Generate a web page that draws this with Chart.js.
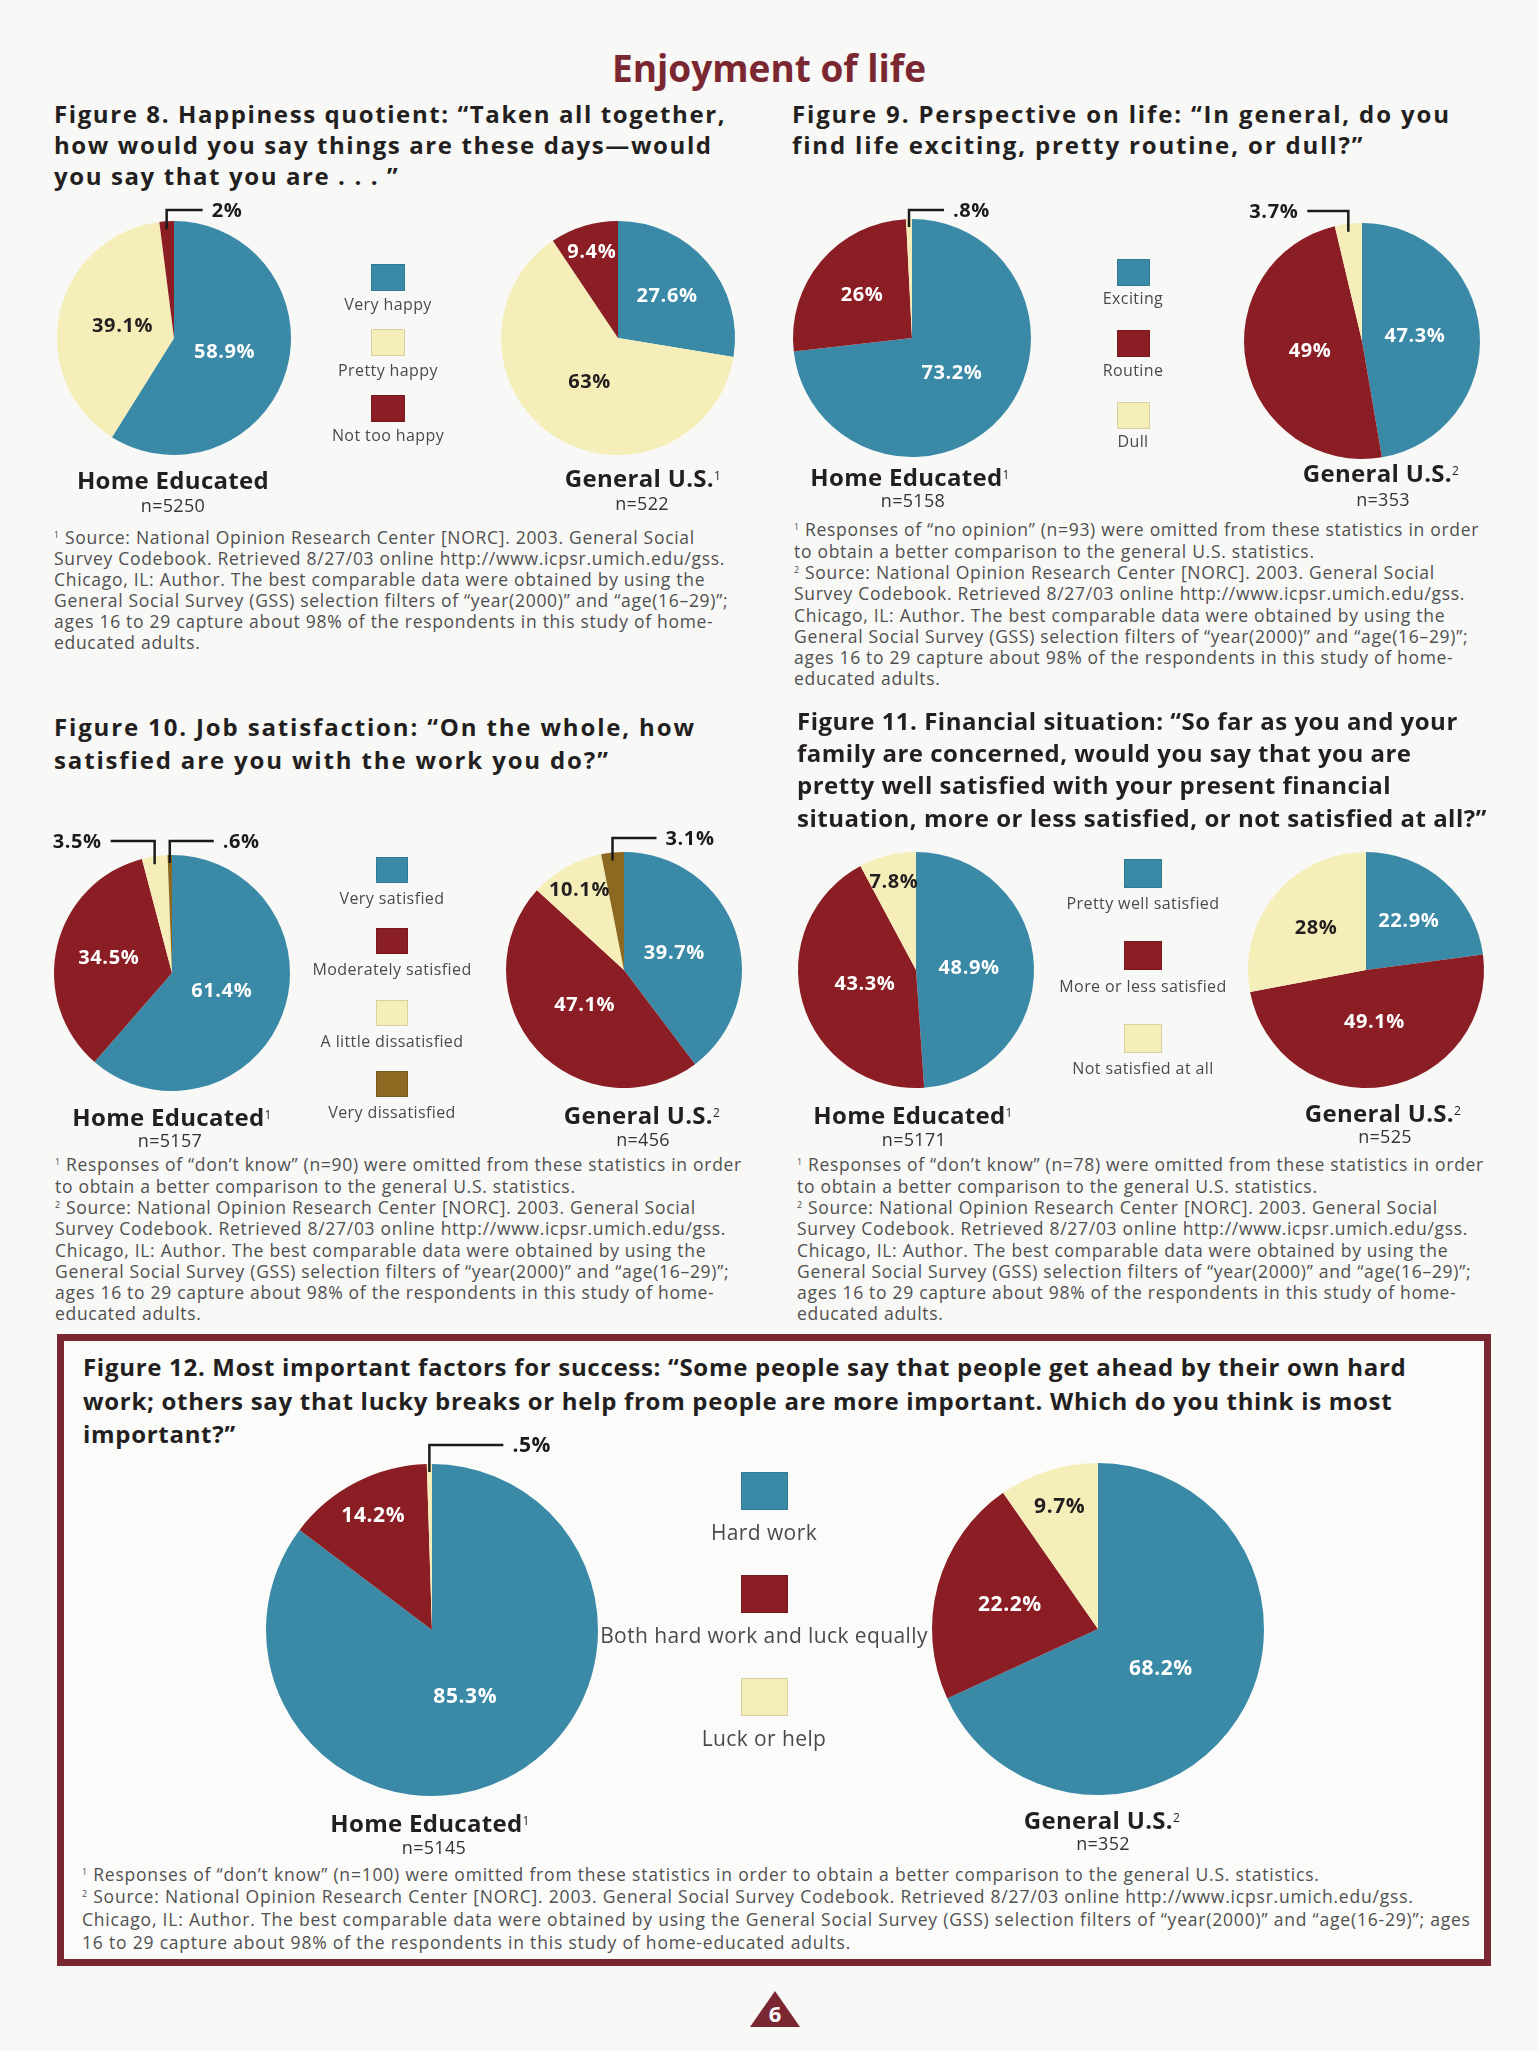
<!DOCTYPE html>
<html>
<head>
<meta charset="utf-8">
<script src="https://cdn.jsdelivr.net/npm/chart.js@4.4.0/dist/chart.umd.min.js"></script>
<style>
  body { margin: 0; background: #f8f8f6; }
  #page { position: relative; width: 1538px; height: 2051px; font-family: "Open Sans", sans-serif; color: #231f20; overflow: hidden; }
  .abs { position: absolute; }
  .heading { left: 0; width: 1538px; top: 43px; text-align: center; font-size: 37px; font-weight: 700; color: #7b2731; line-height: 50px; }
  .ftitle { font-size: 24px; font-weight: 700; line-height: 32px; white-space: nowrap; letter-spacing: 1.5px; }
  .note { font-size: 17.5px; white-space: nowrap; color: #505050; letter-spacing: 0.7px; }
  .grp { text-align: center; width: 400px; font-weight: 700; font-size: 24px; line-height: 30px; white-space: nowrap; letter-spacing: 0.3px; }
  .grp sup, .note sup { font-size: 0.5em; font-weight: 400; vertical-align: top; position: relative; top: -2px; }
  .n { text-align: center; width: 400px; font-size: 18px; line-height: 22px; color: #333; letter-spacing: 0.3px; }
  .leg { text-align: center; width: 400px; color: #4a4a4a; line-height: 22px; white-space: nowrap; letter-spacing: 0.4px; }
  canvas { position: absolute; }
  #box { left: 57px; top: 1334px; width: 1434px; height: 632px; box-sizing: border-box; border: 7px solid #7b2731; background: #fbfbfa; }
  #pnum { left: 750px; top: 1991px; width: 50px; height: 36px; background: #7b2731; clip-path: polygon(50% 0, 100% 100%, 0 100%); color: #fff; font-weight: 700; font-size: 22px; text-align: center; line-height: 44px; }
</style>
</head>
<body>
<div id="page">
  <div id="box" class="abs"></div>
  <div class="abs heading">Enjoyment of life</div>
  <div id="pnum" class="abs">6</div>
</div>
<script>
const TEAL = '#3a8aa7', RED = '#8b1e25', YELLOW = '#f5eeb9', BROWN = '#8d6821';

// data (percent)
const happyCats = ['Very happy', 'Pretty happy', 'Not too happy'];
const happyHome = [58.9, 39.1, 2];
const happyUS = [27.6, 63, 9.4];

const outlookCats = ['Exciting', 'Routine', 'Dull'];
const outlookHome = [73.2, 26, 0.8];
const outlookUS = [47.3, 49, 3.7];

const jobCats = ['Very satisfied', 'Moderately satisfied', 'A little dissatisfied', 'Very dissatisfied'];
const jobHome = [61.4, 34.5, 3.5, 0.6];
const jobUS = [39.7, 47.1, 10.1, 3.1];

const moneyCats = ['Pretty well satisfied', 'More or less satisfied', 'Not satisfied at all'];
const moneyHome = [48.9, 43.3, 7.8];
const moneyUS = [22.9, 49.1, 28];

const successCats = ['Hard work', 'Both hard work and luck equally', 'Luck or help'];
const successHome = [85.3, 14.2, 0.5];
const successUS = [68.2, 22.2, 9.7];

const homeN = [5250, 5158, 5157, 5171, 5145];
const usN = [522, 353, 456, 525, 352];

const page = document.getElementById('page');

function place(html, cls, left, top) {
  const d = document.createElement('div');
  d.className = 'abs ' + cls;
  d.style.left = left + 'px';
  d.style.top = top + 'px';
  d.innerHTML = html;
  page.appendChild(d);
  return d;
}

function title(lines, left, firstMid, lh, spacing) {
  const d = place(lines.join('<br>'), 'ftitle', left, firstMid - lh / 2);
  d.style.lineHeight = lh + 'px';
  if (spacing != null) d.style.letterSpacing = spacing + 'px';
}

function note(lines, left, firstMid, lh, spacing) {
  const d = place(lines.join('<br>'), 'note', left, firstMid - lh / 2);
  d.style.lineHeight = lh + 'px';
  if (spacing != null) d.style.letterSpacing = spacing + 'px';
}

function legend(cats, colors, cx, sq0, pitch, gap, w, h, fs) {
  cats.forEach((c, i) => {
    const sy = sq0 + i * pitch;
    const s = place('', '', cx - w / 2, sy - h / 2);
    s.style.width = w + 'px';
    s.style.height = h + 'px';
    s.style.background = colors[i];
    s.style.boxShadow = 'inset 0 0 0 1px rgba(0,0,0,0.12)';
    const l = place(c, 'leg', cx - 200, sy + gap - 11);
    l.style.fontSize = fs + 'px';
  });
}

function groupLabel(name, sup, cx, cy, ncx, ncy, n) {
  place(name + '<sup>' + sup + '</sup>', 'grp', cx - 200, cy - 15);
  place('n=' + n, 'n', ncx - 200, ncy - 11);
}

const pieLabels = {
  id: 'pieLabels',
  afterDatasetsDraw(chart, args, opts) {
    const ctx = chart.ctx;
    const ds = chart.data.datasets[0];
    chart.getDatasetMeta(0).data.forEach((arc, i) => {
      const { x, y, startAngle, endAngle, outerRadius } =
        arc.getProps(['x', 'y', 'startAngle', 'endAngle', 'outerRadius'], true);
      const v = ds.data[i];
      const txt = String(v).replace(/^0\./, '.') + '%';
      const mid = (startAngle + endAngle) / 2;
      ctx.save();
      ctx.font = 'bold ' + opts.size + 'px "Open Sans", sans-serif';
      ctx.letterSpacing = '0.6px';
      ctx.textBaseline = 'middle';
      const co = (opts.callouts || {})[i];
      if (co) {
        const px = x + Math.cos(mid) * outerRadius;
        const py = y + Math.sin(mid) * outerRadius;
        const ly = y - outerRadius - co.rise;
        const ex = px + co.dir * co.len;
        ctx.strokeStyle = '#1b1b1b';
        ctx.lineWidth = 2.5;
        ctx.beginPath();
        ctx.moveTo(px, py + 8);
        ctx.lineTo(px, ly);
        ctx.lineTo(ex, ly);
        ctx.stroke();
        ctx.fillStyle = '#1b1b1b';
        ctx.textAlign = co.dir > 0 ? 'left' : 'right';
        ctx.fillText(txt, ex + co.dir * 9, ly + 1);
      } else {
        const f = v < 15 ? 0.77 : v < 35 ? 0.55 : 0.45;
        ctx.fillStyle = ds.backgroundColor[i] === YELLOW ? '#231f20' : '#ffffff';
        ctx.textAlign = 'center';
        ctx.fillText(txt, x + Math.cos(mid) * outerRadius * f, y + Math.sin(mid) * outerRadius * f);
      }
      ctx.restore();
    });
  }
};

function pie(cats, values, colors, cx, cy, r, callouts, size) {
  const padX = 120, padY = 50;
  const c = document.createElement('canvas');
  c.width = 2 * r + 2 * padX;
  c.height = 2 * r + 2 * padY;
  c.style.left = (cx - r - padX) + 'px';
  c.style.top = (cy - r - padY) + 'px';
  page.appendChild(c);
  new Chart(c, {
    type: 'pie',
    data: {
      labels: cats,
      datasets: [{ data: values, backgroundColor: colors, borderWidth: 0, hoverOffset: 0 }]
    },
    options: {
      responsive: false,
      animation: false,
      events: [],
      layout: { padding: { left: padX, right: padX, top: padY, bottom: padY } },
      plugins: {
        legend: { display: false },
        tooltip: { enabled: false },
        pieLabels: { callouts: callouts, size: size || 20 }
      }
    },
    plugins: [pieLabels]
  });
}

const src = [
  'Source: National Opinion Research Center [NORC]. 2003. General Social',
  'Survey Codebook. Retrieved 8/27/03 online http://www.icpsr.umich.edu/gss.',
  'Chicago, IL: Author. The best comparable data were obtained by using the',
  'General Social Survey (GSS) selection filters of “year(2000)” and “age(16–29)”;',
  'ages 16 to 29 capture about 98% of the respondents in this study of home-',
  'educated adults.'
];
function omitted(what, n) {
  return ['<sup>1</sup> Responses of “' + what + '” (n=' + n + ') were omitted from these statistics in order',
    'to obtain a better comparison to the general U.S. statistics.'];
}

// Figure 8
const c8 = [TEAL, YELLOW, RED];
title(['Figure 8. Happiness quotient: “Taken all together,',
  'how would you say things are these days—would',
  'you say that you are . . . ”'], 54, 113, 31, 1.6);
pie(happyCats, happyHome, c8, 174, 338, 117, { 2: { dir: 1, len: 36, rise: 11 } });
pie(happyCats, happyUS, c8, 618, 338, 117);
legend(happyCats, c8, 388, 277, 65.5, 27, 34, 27, 16);
groupLabel('Home Educated', '', 173, 480, 173, 505, homeN[0]);
groupLabel('General U.S.', '1', 643, 478, 642, 503, usN[0]);
note(['<sup>1</sup> ' + src[0]].concat(src.slice(1)), 54, 537, 21);

// Figure 9
const c9 = [TEAL, RED, YELLOW];
title(['Figure 9. Perspective on life: “In general, do you',
  'find life exciting, pretty routine, or dull?”'], 792, 113, 31, 1.85);
pie(outlookCats, outlookHome, c9, 912, 338, 119, { 2: { dir: 1, len: 35, rise: 9 } });
pie(outlookCats, outlookUS, c9, 1362, 341, 118, { 2: { dir: -1, len: 41, rise: 12 } });
legend(outlookCats, c9, 1133, 272, 71.5, 26, 33, 27, 16);
groupLabel('Home Educated', '1', 910, 477, 913, 500, homeN[1]);
groupLabel('General U.S.', '2', 1381, 473, 1383, 499, usN[1]);
note(omitted('no opinion', 93).concat(['<sup>2</sup> ' + src[0]], src.slice(1)), 794, 530, 21.3);

// Figure 10
const c10 = [TEAL, RED, YELLOW, BROWN];
title(['Figure 10. Job satisfaction: “On the whole, how',
  'satisfied are you with the work you do?”'], 54, 726, 33, 1.85);
pie(jobCats, jobHome, c10, 172, 973, 118, { 2: { dir: -1, len: 44, rise: 14 }, 3: { dir: 1, len: 44, rise: 14 } });
pie(jobCats, jobUS, c10, 624, 970, 118, { 3: { dir: 1, len: 44, rise: 14 } });
legend(jobCats, c10, 392, 870, 71.3, 28, 32, 26, 16);
groupLabel('Home Educated', '1', 172, 1117, 170, 1140, homeN[2]);
groupLabel('General U.S.', '2', 642, 1115, 643, 1139, usN[2]);
note(omitted('don’t know', 90).concat(['<sup>2</sup> ' + src[0]], src.slice(1)), 55, 1165, 21.3);

// Figure 11
const c11 = [TEAL, RED, YELLOW];
title(['Figure 11. Financial situation: “So far as you and your',
  'family are concerned, would you say that you are',
  'pretty well satisfied with your present financial',
  'situation, more or less satisfied, or not satisfied at all?”'], 797, 721, 32.2, 0.5);
pie(moneyCats, moneyHome, c11, 916, 970, 118);
pie(moneyCats, moneyUS, c11, 1366, 970, 118);
legend(moneyCats, c11, 1143, 873, 82.5, 30, 38, 29, 16);
groupLabel('Home Educated', '1', 913, 1115, 914, 1139, homeN[3]);
groupLabel('General U.S.', '2', 1383, 1113, 1385, 1136, usN[3]);
note(omitted('don’t know', 78).concat(['<sup>2</sup> ' + src[0]], src.slice(1)), 797, 1165, 21.3);

// Figure 12
const c12 = [TEAL, RED, YELLOW];
title(['Figure 12. Most important factors for success: “Some people say that people get ahead by their own hard',
  'work; others say that lucky breaks or help from people are more important. Which do you think is most',
  'important?”'], 83, 1367, 33.5, 0.7);
pie(successCats, successHome, c12, 432, 1630, 166, { 2: { dir: 1, len: 74, rise: 19 } }, 21);
pie(successCats, successUS, c12, 1098, 1629, 166, null, 21);
legend(successCats, c12, 764, 1491, 103, 41, 47, 38, 21);
groupLabel('Home Educated', '1', 430, 1823, 434, 1847, homeN[4]);
groupLabel('General U.S.', '2', 1102, 1820, 1103, 1843, usN[4]);
note(['<sup>1</sup> Responses of “don’t know” (n=100) were omitted from these statistics in order to obtain a better comparison to the general U.S. statistics.',
  '<sup>2</sup> Source: National Opinion Research Center [NORC]. 2003. General Social Survey Codebook. Retrieved 8/27/03 online http://www.icpsr.umich.edu/gss.',
  'Chicago, IL: Author. The best comparable data were obtained by using the General Social Survey (GSS) selection filters of “year(2000)” and “age(16-29)”; ages',
  '16 to 29 capture about 98% of the respondents in this study of home-educated adults.'], 82, 1874, 22.7, 0.8);
</script>
</body>
</html>
